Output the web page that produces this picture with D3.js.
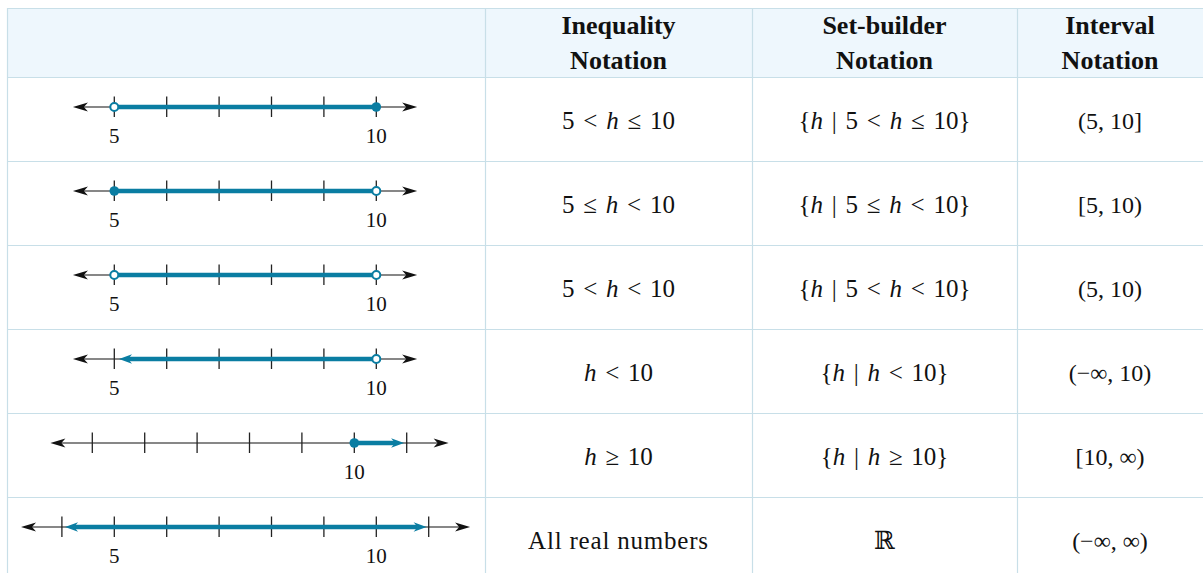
<!DOCTYPE html>
<html>
<head>
<meta charset="utf-8">
<script src="https://cdn.jsdelivr.net/npm/d3@7"></script>
<style>
body { margin: 0; background: #fff; }
text { font-family: "Liberation Serif", "DejaVu Serif", serif; fill: #111; }
</style>
</head>
<body>
<div id="chart"></div>
<script>
// table text
var headers = [["Inequality", "Notation"], ["Set-builder", "Notation"], ["Interval", "Notation"]];
var inequality = ["5 < _h_ ≤ 10", "5 ≤ _h_ < 10", "5 < _h_ < 10", "_h_ < 10", "_h_ ≥ 10", "All real numbers"];
var setBuilder = ["{_h_ | 5 < _h_ ≤ 10}", "{_h_ | 5 ≤ _h_ < 10}", "{_h_ | 5 < _h_ < 10}", "{_h_ | _h_ < 10}", "{_h_ | _h_ ≥ 10}", "ℝ"];
var interval = ["(5, 10]", "[5, 10)", "(5, 10)", "(−∞, 10)", "[10, ∞)", "(−∞, ∞)"];

// number lines (values in h units)
var axisFrom = [4.21, 4.21, 4.21, 4.21, 4.2, 3.22];
var axisTo = [10.78, 10.78, 10.78, 10.78, 11.8, 11.79];
var tickFrom = [5, 5, 5, 5, 5, 4];
var tickTo = [10, 10, 10, 10, 11, 11];
var tickLabels = [[5, 10], [5, 10], [5, 10], [5, 10], [10], [5, 10]];
var setFrom = [5, 5, 5, 5.09, 10, 4.06];
var setTo = [10, 10, 10, 10, 10.95, 10.96];
var startMark = ["open", "closed", "open", "arrow", "closed", "arrow"];
var endMark = ["closed", "open", "open", "open", "arrow", "arrow"];

var W = 1203, H = 573;
var colEdges = [7, 485, 752, 1017, 1203];
var top0 = 8, headH = 69, rowH = 84;
var teal = "#0a7da2", border = "#c8dfe8";

var svg = d3.select("#chart").append("svg")
            .attr("width", W).attr("height", H);

// header band
svg.append("rect").attr("x", colEdges[0]).attr("y", top0)
   .attr("width", W - colEdges[0]).attr("height", headH)
   .attr("fill", "#eef7fd");

var rowTop = function(i){ return top0 + headH + i * rowH; };

// grid lines
var hLines = [top0, top0 + headH];
inequality.forEach(function(d, i){ hLines.push(rowTop(i + 1)); });
svg.append("g").selectAll("line").data(hLines).enter().append("line")
   .attr("x1", colEdges[0]).attr("x2", W)
   .attr("y1", function(d){ return d + 0.5; }).attr("y2", function(d){ return d + 0.5; })
   .attr("stroke", border).attr("stroke-width", 1.2);
svg.append("g").selectAll("line").data(colEdges.slice(0, 4)).enter().append("line")
   .attr("x1", function(d){ return d + 0.5; }).attr("x2", function(d){ return d + 0.5; })
   .attr("y1", top0).attr("y2", H)
   .attr("stroke", border).attr("stroke-width", 1.2);

// header text
var colMid = function(c){ return (colEdges[c] + colEdges[c + 1]) / 2; };
headers.forEach(function(h, c){
    svg.append("text").attr("x", colMid(c + 1)).attr("y", 34)
       .attr("text-anchor", "middle").attr("font-weight", "bold").attr("font-size", 26)
       .text(h[0]);
    svg.append("text").attr("x", colMid(c + 1)).attr("y", 69)
       .attr("text-anchor", "middle").attr("font-weight", "bold").attr("font-size", 26)
       .text(h[1]);
});

// body text, _x_ marks italic pieces
function mathText(g, str, x, y, size, wordGap){
    var plain = str.indexOf("_") < 0 && str.length > 3;
    var t = g.append("text").attr("x", x).attr("y", y)
             .attr("text-anchor", "middle").attr("font-size", size)
             .attr("xml:space", "preserve")
             .style("word-spacing", (plain ? 0 : wordGap) + "px");
    if (plain && wordGap > 0) t.style("letter-spacing", "0.8px");
    str.split("_").forEach(function(part, k){
        if (part === "") return;
        t.append("tspan").attr("font-style", k % 2 ? "italic" : "normal").text(part);
    });
}
var body = svg.append("g");
var colSize = [25, 25, 24], colGap = [2.5, 2.5, 0];
[inequality, setBuilder, interval].forEach(function(col, c){
    col.forEach(function(s, i){
        mathText(body, s, colMid(c + 1), rowTop(i) + rowH / 2 + 10, colSize[c], colGap[c]);
    });
});

// number lines
var x = d3.scaleLinear().domain([5, 10]).range([114.3, 376.3]);
var shift = [0, 0, 0, 0, -22, 0];

function arrowHead(len, half, notch, dir){
    return "M0,0 L" + (-dir * len) + "," + (-half) + " L" + (-dir * notch) + ",0 L" +
           (-dir * len) + "," + half + " Z";
}

inequality.forEach(function(d, i){
    var ay = rowTop(i) + 30;
    var g = svg.append("g").attr("transform", "translate(" + shift[i] + "," + ay + ")");

    // axis line with black arrows
    g.append("line").attr("x1", x(axisFrom[i]) + 8).attr("x2", x(axisTo[i]) - 8)
     .attr("stroke", "#111").attr("stroke-width", 1.2);
    g.append("path").attr("d", arrowHead(15, 4.5, 11, -1))
     .attr("transform", "translate(" + x(axisFrom[i]) + ",0)").attr("fill", "#111");
    g.append("path").attr("d", arrowHead(15, 4.5, 11, 1))
     .attr("transform", "translate(" + x(axisTo[i]) + ",0)").attr("fill", "#111");

    // ticks
    g.append("g").selectAll("line").data(d3.range(tickFrom[i], tickTo[i] + 1)).enter()
     .append("line")
     .attr("x1", function(v){ return x(v); }).attr("x2", function(v){ return x(v); })
     .attr("y1", -10.5).attr("y2", 10)
     .attr("stroke", "#222").attr("stroke-width", 1.3);

    g.append("g").selectAll("text").data(tickLabels[i]).enter().append("text")
     .attr("x", function(v){ return x(v); }).attr("y", 35.5)
     .attr("text-anchor", "middle").attr("font-size", 21)
     .text(function(v){ return v; });

    // the set
    var a = x(setFrom[i]), b = x(setTo[i]);
    var a1 = startMark[i] === "arrow" ? a + 9 : a;
    var b1 = endMark[i] === "arrow" ? b - 9 : b;
    g.append("line").attr("x1", a1).attr("x2", b1)
     .attr("stroke", teal).attr("stroke-width", 4.5);

    [[a, startMark[i], -1], [b, endMark[i], 1]].forEach(function(m){
        if (m[1] === "arrow") {
            g.append("path").attr("d", arrowHead(13, 4.8, 9, m[2]))
             .attr("transform", "translate(" + m[0] + ",0)").attr("fill", teal);
        } else if (m[1] === "closed") {
            g.append("circle").attr("cx", m[0]).attr("r", 4.8).attr("fill", teal);
        } else {
            g.append("circle").attr("cx", m[0]).attr("r", 4)
             .attr("fill", "#fff").attr("stroke", teal).attr("stroke-width", 2);
        }
    });
});
</script>
</body>
</html>
